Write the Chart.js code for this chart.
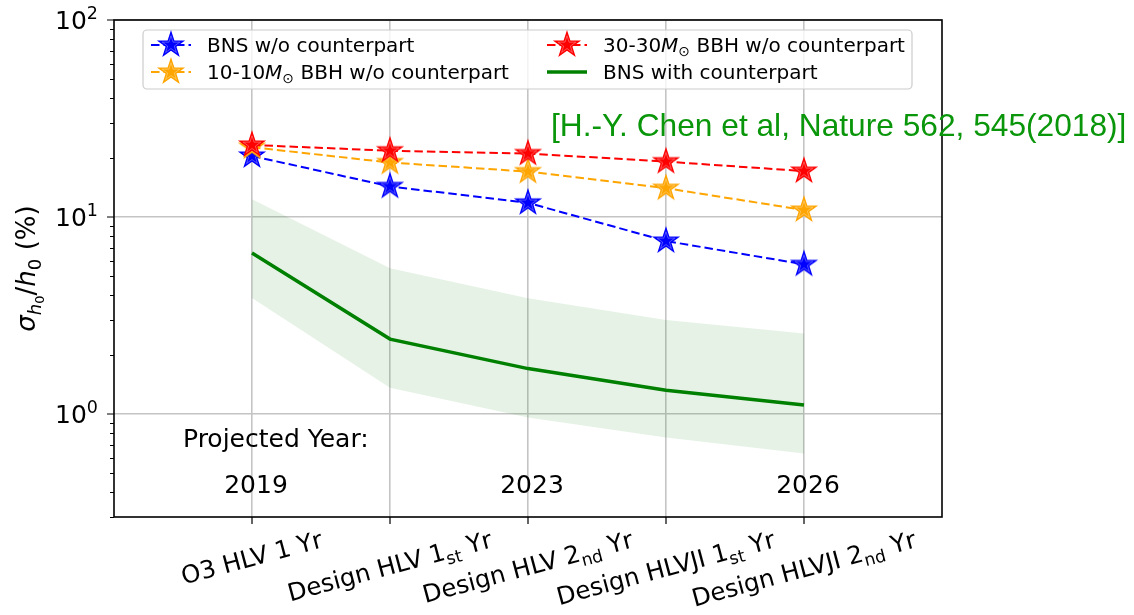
<!DOCTYPE html>
<html>
<head>
<meta charset="utf-8">
<script src="https://cdn.jsdelivr.net/npm/chart.js@4.4.1/dist/chart.umd.min.js"></script>
<style>
  html, body { margin: 0; padding: 0; background: #ffffff; }
  #wrap { width: 1134px; height: 615px; position: relative; }
</style>
</head>
<body>
<div id="wrap"><canvas id="chart" width="1134" height="615"></canvas></div>
<script>
// Observing scenarios along the x axis (index 0..4)
const categoryLabels = [
  'O3 HLV 1 Yr',
  'Design HLV 1_{st} Yr',
  'Design HLV 2_{nd} Yr',
  'Design HLVJI 1_{st} Yr',
  'Design HLVJI 2_{nd} Yr'
];

// Fractional H0 uncertainty, percent
const bnsNoCounterpart   = [20.4, 14.3, 11.8, 7.55, 5.75];
const bbh10NoCounterpart = [22.6, 18.9, 17.0, 14.0, 10.85];
const bbh30NoCounterpart = [23.2, 21.7, 21.0, 19.1, 17.1];
const bnsWithCounterpart = [6.56, 2.40, 1.70, 1.32, 1.11];
const bnsBandUpper       = [12.3, 5.5, 3.87, 3.0, 2.56];
const bnsBandLower       = [3.88, 1.36, 0.96, 0.76, 0.63];

const seriesLabels = [
  'BNS w/o counterpart',
  '10-10$M$_{⊙} BBH w/o counterpart',
  '30-30$M$_{⊙} BBH w/o counterpart',
  'BNS with counterpart'
];

// Projected calendar years shown under some scenarios
const projectedYears = ['2019', '2023', '2026'];
const projectedYearAt = [0, 2, 4];

// Log axis decades and their exponent labels
const yDecades = [1, 10, 100];
const yDecadeExponents = ['0', '1', '2'];
const yMin = 0.3, yMax = 100;

const citation = '[H.-Y. Chen et al, Nature 562, 545(2018)]';

const FONT = '"DejaVu Sans"';
const BLUE = '#0000ff', ORANGE = '#ffa500', RED = '#ff0000', GREEN = '#008000';

// minor log ticks (2..9 per decade) inside the axis range
const yMinorTicks = [];
for (let e = -1; e <= 1; e++) {
  for (let m = 2; m <= 9; m++) {
    const v = m * Math.pow(10, e);
    if (v >= yMin - 1e-9 && v < yMax) yMinorTicks.push(v);
  }
}

// filled five-pointed star marker
function makeStar(color) {
  const s = 36, c = document.createElement('canvas');
  c.width = s; c.height = s;
  const g = c.getContext('2d');
  const R = 12.8, r = R * 0.381966;
  const path = (scale) => {
    g.beginPath();
    for (let k = 0; k < 10; k++) {
      const a = -Math.PI / 2 + k * Math.PI / 5;
      const rad = (k % 2 === 0 ? R : r) * scale;
      const x = s / 2 + rad * Math.cos(a), y = s / 2 + rad * Math.sin(a);
      if (k === 0) g.moveTo(x, y); else g.lineTo(x, y);
    }
    g.closePath();
  };
  path(1);
  g.fillStyle = color; g.fill();
  g.strokeStyle = color; g.lineWidth = 1.3; g.lineJoin = 'miter'; g.stroke();
  path(0.72);
  g.strokeStyle = 'rgba(255,255,255,0.35)'; g.lineWidth = 0.9; g.stroke();
  return c;
}
const stars = { blue: makeStar(BLUE), orange: makeStar(ORANGE), red: makeStar(RED) };

const toPoints = (arr) => arr.map((v, i) => ({ x: i, y: v }));

// rich text: $..$ italic, _{..} subscript, ^{..} superscript
function parseRich(str, size) {
  const segs = [];
  let buf = '', italic = false, i = 0;
  const push = (t, sz, it, dy) => { if (t) segs.push({ t, size: sz, italic: it, dy }); };
  while (i < str.length) {
    const ch = str[i];
    if (ch === '$') { push(buf, size, italic, 0); buf = ''; italic = !italic; i++; continue; }
    if ((ch === '_' || ch === '^') && str[i + 1] === '{') {
      push(buf, size, italic, 0); buf = '';
      const end = str.indexOf('}', i);
      push(str.slice(i + 2, end), size * 0.7, false, ch === '_' ? size * 0.22 : -size * 0.39);
      i = end + 1; continue;
    }
    buf += ch; i++;
  }
  push(buf, size, italic, 0);
  return segs;
}
function fontOf(seg, family) { return (seg.italic ? 'italic ' : '') + seg.size + 'px ' + (family || FONT); }
function richWidth(ctx, segs) {
  let w = 0;
  for (const s of segs) { ctx.font = fontOf(s); w += ctx.measureText(s.t).width; }
  return w;
}
function drawRich(ctx, segs, x, y, align) {
  const w = richWidth(ctx, segs);
  let cx = align === 'right' ? x - w : align === 'center' ? x - w / 2 : x;
  ctx.textBaseline = 'alphabetic'; ctx.textAlign = 'left';
  for (const s of segs) {
    ctx.font = fontOf(s);
    ctx.fillText(s.t, cx, y + s.dy);
    cx += ctx.measureText(s.t).width;
  }
  return w;
}

const yTitleSegs = [
  { t: 'σ', size: 26, italic: true, dy: 0 },
  { t: 'h', size: 18.2, italic: true, dy: 5.5 },
  { t: '0', size: 13, italic: false, dy: 8.5 },
  { t: '/', size: 26, italic: false, dy: 0 },
  { t: 'h', size: 26, italic: true, dy: 0 },
  { t: '0', size: 18.2, italic: false, dy: 5.5 },
  { t: ' (%)', size: 26, italic: false, dy: 0 }
];

const decorations = {
  id: 'decorations',
  afterDraw(chart) {
    const ctx = chart.ctx, a = chart.chartArea;
    const xs = chart.scales.x, ys = chart.scales.y;
    ctx.save();
    ctx.fillStyle = '#000';
    ctx.strokeStyle = '#000';

    // axes frame
    ctx.lineWidth = 1.6;
    ctx.strokeRect(a.left, a.top, a.right - a.left, a.bottom - a.top);

    // y ticks
    ctx.lineWidth = 1.2;
    ctx.beginPath();
    for (const v of yDecades) { const py = ys.getPixelForValue(v); ctx.moveTo(a.left - 7, py); ctx.lineTo(a.left, py); }
    for (const v of yMinorTicks) { const py = Math.round(ys.getPixelForValue(v)) + 0.5; ctx.moveTo(a.left - 4, py); ctx.lineTo(a.left, py); }
    // x ticks
    categoryLabels.forEach((_, i) => { const px = xs.getPixelForValue(i); ctx.moveTo(px, a.bottom); ctx.lineTo(px, a.bottom + 7); });
    ctx.stroke();

    // y tick labels 10^n
    yDecades.forEach((v, k) => {
      const py = ys.getPixelForValue(v);
      drawRich(ctx, parseRich('10^{' + yDecadeExponents[k] + '}', 25), a.left - 16, py + 9, 'right');
    });

    // x tick labels, rotated 15 degrees about their centre
    const ang = 15 * Math.PI / 180;
    const xf = 24.5;
    categoryLabels.forEach((lab, i) => {
      const segs = parseRich(lab, xf);
      const w = richWidth(ctx, segs), h = xf * 1.17;
      const H = w * Math.sin(ang) + h * Math.cos(ang);
      const cx = xs.getPixelForValue(i), cy = a.bottom + 9 + H / 2;
      ctx.save();
      ctx.translate(cx, cy); ctx.rotate(-ang);
      drawRich(ctx, segs, 0, xf * 0.3, 'center');
      ctx.restore();
    });

    // y axis title
    ctx.save();
    ctx.translate(35, (a.top + a.bottom) / 2);
    ctx.rotate(-Math.PI / 2);
    drawRich(ctx, yTitleSegs, 0, 0, 'center');
    ctx.restore();

    // projected years
    drawRich(ctx, parseRich('Projected Year:', 25), 183, 447, 'left');
    projectedYears.forEach((yr, k) => {
      drawRich(ctx, parseRich(yr, 25), xs.getPixelForValue(projectedYearAt[k]) + 4, 493, 'center');
    });

    // legend
    const lx0 = 143, ly0 = 30, lx1 = 912, ly1 = 89;
    ctx.beginPath();
    ctx.roundRect(lx0, ly0, lx1 - lx0, ly1 - ly0, 4);
    ctx.fillStyle = 'rgba(255,255,255,0.8)'; ctx.fill();
    ctx.strokeStyle = '#cccccc'; ctx.lineWidth = 1.2; ctx.stroke();
    const entries = [
      { col: 0, row: 0, color: BLUE, star: stars.blue, dashed: true, label: seriesLabels[0] },
      { col: 0, row: 1, color: ORANGE, star: stars.orange, dashed: true, label: seriesLabels[1] },
      { col: 1, row: 0, color: RED, star: stars.red, dashed: true, label: seriesLabels[2] },
      { col: 1, row: 1, color: GREEN, star: null, dashed: false, label: seriesLabels[3] }
    ];
    const colX = [151, 547], rowY = [45, 72];
    for (const e of entries) {
      const hx = colX[e.col], hy = rowY[e.row];
      ctx.save();
      ctx.strokeStyle = e.color;
      ctx.lineWidth = e.dashed ? 2 : 3.5;
      ctx.setLineDash(e.dashed ? [8.5, 4] : []);
      ctx.beginPath(); ctx.moveTo(hx, hy); ctx.lineTo(hx + 40, hy); ctx.stroke();
      ctx.restore();
      if (e.star) ctx.drawImage(e.star, hx + 20 - e.star.width / 2, hy - e.star.height / 2);
      ctx.fillStyle = '#000';
      drawRich(ctx, parseRich(e.label, 20), hx + 56, hy + 7, 'left');
    }

    // citation
    ctx.fillStyle = 'rgb(10,150,10)';
    ctx.font = '31.7px "Liberation Sans"';
    ctx.textAlign = 'left'; ctx.textBaseline = 'alphabetic';
    ctx.fillText(citation, 551, 136);
    ctx.restore();
  }
};

const lineDefaults = { borderWidth: 2, borderDash: [8.5, 4], tension: 0, pointRadius: 12, pointHoverRadius: 12, fill: false };

new Chart(document.getElementById('chart'), {
  type: 'line',
  data: {
    datasets: [
      { label: 'band upper', data: toPoints(bnsBandUpper), borderWidth: 0, pointRadius: 0, fill: '+1',
        backgroundColor: 'rgba(0,128,0,0.1)', borderColor: 'rgba(0,0,0,0)', order: 10 },
      { label: 'band lower', data: toPoints(bnsBandLower), borderWidth: 0, pointRadius: 0, fill: false,
        borderColor: 'rgba(0,0,0,0)', order: 11 },
      Object.assign({ label: seriesLabels[0], data: toPoints(bnsNoCounterpart), borderColor: BLUE, pointStyle: stars.blue, order: 4 }, lineDefaults),
      Object.assign({ label: seriesLabels[1], data: toPoints(bbh10NoCounterpart), borderColor: ORANGE, pointStyle: stars.orange, order: 3 }, lineDefaults),
      Object.assign({ label: seriesLabels[2], data: toPoints(bbh30NoCounterpart), borderColor: RED, pointStyle: stars.red, order: 2 }, lineDefaults),
      { label: seriesLabels[3], data: toPoints(bnsWithCounterpart), borderColor: GREEN, borderWidth: 3.5, pointRadius: 0, tension: 0, fill: false, order: 1 }
    ]
  },
  options: {
    responsive: false,
    animation: false,
    devicePixelRatio: 1,
    layout: { padding: { left: 0, top: 20, right: 192, bottom: 0 } },
    plugins: { legend: { display: false }, tooltip: { enabled: false } },
    events: [],
    scales: {
      x: {
        type: 'linear', min: -1, max: 5,
        afterBuildTicks: (s) => { s.ticks = categoryLabels.map((_, i) => ({ value: i })); },
        afterFit: (s) => { s.height = 98; },
        ticks: { display: false },
        grid: { color: '#c4c4c4', lineWidth: 1.6, drawTicks: false },
        border: { display: false }
      },
      y: {
        type: 'logarithmic', min: yMin, max: yMax,
        afterBuildTicks: (s) => { s.ticks = yDecades.map(v => ({ value: v, major: true })); },
        afterFit: (s) => { s.width = 114; },
        ticks: { display: false },
        grid: { color: '#c4c4c4', lineWidth: 1.6, drawTicks: false },
        border: { display: false }
      }
    }
  },
  plugins: [decorations]
});
</script>
</body>
</html>
